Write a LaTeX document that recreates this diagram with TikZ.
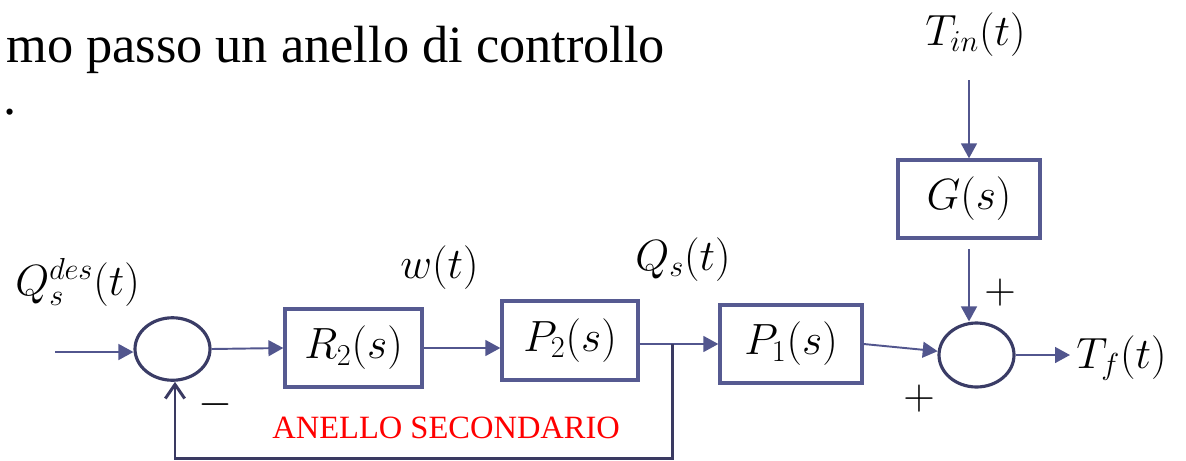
\documentclass[tikz,border=0pt]{standalone}
\usepackage[no-math]{fontspec}
\setmainfont{Liberation Serif}
\usetikzlibrary{arrows.meta,shapes.geometric}
\definecolor{boxc}{RGB}{86,90,145}
\definecolor{linec}{RGB}{82,86,142}
\definecolor{circc}{RGB}{58,60,102}
\definecolor{fbcol}{RGB}{58,58,98}
\newcommand\mlab{\fontsize{26.5}{31}\selectfont}
\begin{document}
\begin{tikzpicture}[x=0.02cm,y=-0.02cm,
  blk/.style={draw=boxc,line width=1.9pt,fill=white,inner sep=0pt,font=\mlab,
    minimum width=2.76cm,minimum height=1.56cm},
  sumnode/.style={ellipse,draw=circc,line width=1.8pt,minimum width=1.5cm,
    minimum height=1.25cm,inner sep=0pt},
  sig/.style={draw=linec,line width=1.1pt,-{Triangle[length=8.5pt,width=9pt]}},
  fbline/.style={draw=fbcol,line width=1.7pt,-{Straight Barb[length=8pt,width=11pt]}},
  lab/.style={font=\mlab,inner sep=0pt,anchor=base west},
  sgn/.style={font=\fontsize{28}{32}\selectfont,inner sep=0pt},
  toptext/.style={font=\fontsize{29.8}{36}\selectfont,inner sep=0pt,anchor=base west},
  loopname/.style={font=\fontsize{18.5}{22}\selectfont,text=red,inner sep=0pt,anchor=base west}
]
\useasboundingbox (0,0) rectangle (1186,460);
\node[toptext] (t1) at (6,62) {mo passo un anello di controllo};
\node[toptext] (t2) at (3,114) {.};

% blocks
\node[blk,minimum width=2.74cm] (r2) at (353.5,348) {$R_2(s)$};
\node[blk,minimum width=2.72cm,minimum height=1.58cm] (p2) at (570,340.5) {$P_2(s)$};
\node[blk,minimum width=2.84cm] (p1) at (791,344) {$P_1(s)$};
\node[blk,minimum width=2.84cm] (g) at (969,199) {$G(s)$};
\node[sumnode] (c1) at (172.5,349) {};
\node[sumnode,minimum height=1.28cm] (c2) at (976.5,355) {};

% coordinates
\coordinate (in) at (55,352);
\coordinate (out) at (1070,355);
\coordinate (tin) at (969,80);
\coordinate (br) at (672,344);
\coordinate (fbr) at (672,458);
\coordinate (fbl) at (175,458);
\coordinate (gout) at (969,249);

% signal lines
\draw[sig] (in) -- (in -| c1.west);
\draw[sig] (c1.east) -- (r2.west);
\draw[sig] (r2.east) -- (r2.east -| p2.west);
\draw[sig] (p2.east |- br) -- (br -| p1.west);
\draw[sig] (p1.east) -- (c2);
\draw[sig] (c2.east) -- (out);
\draw[sig] (tin) -- (g.north);
\draw[sig] (gout) -- (gout |- c2.north);
\draw[fbline] (br) -- (fbr) -- (fbl) -- (fbl |- c1.south);

% labels
\node[lab] (lq) at (15,295) {$Q_s^{des}(t)$};
\node[lab] (lw) at (400,278) {$w(t)$};
\node[lab] (lqs) at (635,270) {$Q_s(t)$};
\node[lab] (ltin) at (925,45) {$T_{in}(t)$};
\node[lab] (ltf) at (1076,368) {$T_f(t)$};
\node[sgn] (minus) at (215,405) {$-$};
\node[sgn] (plus1) at (1000,293) {$+$};
\node[sgn] (plus2) at (919,399) {$+$};
\node[loopname] (loop) at (272,438) {ANELLO SECONDARIO};
\end{tikzpicture}
\end{document}
